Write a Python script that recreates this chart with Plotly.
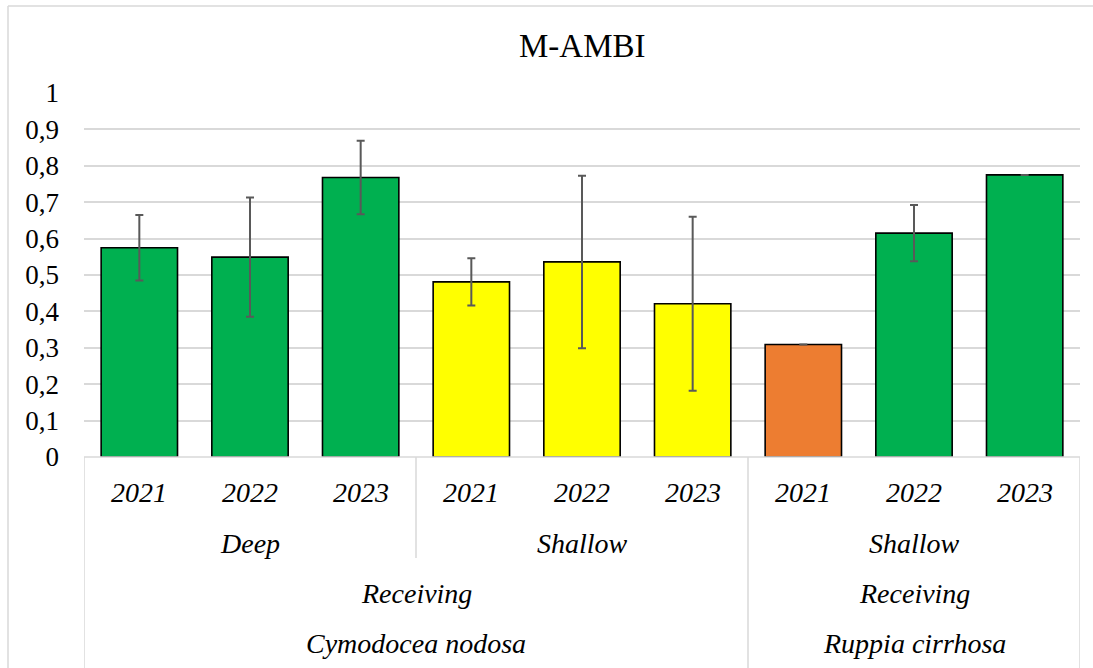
import plotly.graph_objects as go

# M-AMBI per site, depth and year
years = ["2021", "2022", "2023", "2021", "2022", "2023", "2021", "2022", "2023"]
depths = ["Deep", "Deep", "Deep", "Shallow", "Shallow", "Shallow", "Shallow", "Shallow", "Shallow"]
areas = ["Receiving"] * 9
species = ["Cymodocea nodosa"] * 6 + ["Ruppia cirrhosa"] * 3
mambi = [0.575, 0.549, 0.768, 0.481, 0.536, 0.421, 0.309, 0.615, 0.775]
mambi_sd = [0.090, 0.164, 0.101, 0.065, 0.237, 0.239, 0.0, 0.077, 0.0]
status = ["Good", "Good", "Good", "Moderate", "Moderate", "Moderate", "Poor", "Good", "Good"]
y_ticks = [0, 0.1, 0.2, 0.3, 0.4, 0.5, 0.6, 0.7, 0.8, 0.9, 1]
y_tick_text = ["0", "0,1", "0,2", "0,3", "0,4", "0,5", "0,6", "0,7", "0,8", "0,9", "1"]

status_colors = {"Good": "#00B050", "Moderate": "#FFFF00", "Poor": "#ED7D31"}

W, H = 1093, 668
L, R, T, B = 84, 13, 93, 211
plot_h = H - T - B
FONT = "'Times New Roman', 'Liberation Serif', Tinos, 'DejaVu Serif', serif"
GRID = "#D9D9D9"
n = len(mambi)
xs = list(range(n))


def py(pixel_y):
    """Pixel row (from top of page) to paper y."""
    return (H - B - pixel_y) / plot_h


fig = go.Figure()
fig.add_trace(go.Bar(
    x=xs,
    y=mambi,
    width=0.69,
    marker=dict(color=[status_colors[s] for s in status],
                line=dict(color="#000000", width=1.6)),
    error_y=dict(type="data", array=mambi_sd, visible=True,
                 color="#595959", thickness=2, width=4),
    showlegend=False,
    hoverinfo="y",
))


def runs(labels, keys=None):
    """Consecutive runs of equal labels -> (label, start, end)."""
    keys = keys or labels
    out = []
    start = 0
    for i in range(1, len(labels) + 1):
        if i == len(labels) or keys[i] != keys[start]:
            out.append((labels[start], start, i - 1))
            start = i
    return out


annotations = []
shapes = []

# category levels (top to bottom) with row centre pixel rows
levels = [
    (years, [f"{s}|{d}|{y}|{i}" for i, (s, d, y) in enumerate(zip(species, depths, years))], 492),
    (depths, [f"{s}|{d}" for s, d in zip(species, depths)], 543),
    (areas, [f"{s}|{a}" for s, a in zip(species, areas)], 593),
    (species, species, 643),
]
for labels, keys, row_y in levels:
    for text, a, b in runs(labels, keys):
        annotations.append(dict(
            x=(a + b) / 2, y=py(row_y), xref="x", yref="paper",
            text=f"<i>{text}</i>", showarrow=False,
            font=dict(family=FONT, size=28, color="#000000"),
            xanchor="center", yanchor="middle",
        ))

# category box: top line and dividers
shapes.append(dict(type="line", xref="x", yref="paper",
                   x0=-0.5, x1=n - 0.5, y0=0, y1=0,
                   line=dict(color=GRID, width=1.5)))
for x in (-0.5, n - 0.5):
    shapes.append(dict(type="line", xref="x", yref="paper",
                       x0=x, x1=x, y0=0, y1=py(H + 5),
                       line=dict(color=GRID, width=1.5)))
sp_runs = runs(species)
for _, a, b in sp_runs[:-1]:
    shapes.append(dict(type="line", xref="x", yref="paper",
                       x0=b + 0.5, x1=b + 0.5, y0=0, y1=py(H + 5),
                       line=dict(color=GRID, width=1.5)))
for _, a, b in runs(depths, [f"{s}|{d}" for s, d in zip(species, depths)]):
    if b + 1 < n and species[b] == species[b + 1]:
        shapes.append(dict(type="line", xref="x", yref="paper",
                           x0=b + 0.5, x1=b + 0.5, y0=0, y1=py(558),
                           line=dict(color=GRID, width=1.5)))

# outer chart border (top and left edges)
shapes.append(dict(type="line", xref="paper", yref="paper",
                   x0=(8 - L) / (W - L - R), x1=1.2, y0=py(6), y1=py(6),
                   line=dict(color=GRID, width=1.5)))
shapes.append(dict(type="line", xref="paper", yref="paper",
                   x0=(8 - L) / (W - L - R), x1=(8 - L) / (W - L - R),
                   y0=py(6), y1=py(H + 5),
                   line=dict(color=GRID, width=1.5)))

annotations.append(dict(
    x=0.5, y=py(46), xref="paper", yref="paper",
    text="M-AMBI", showarrow=False,
    font=dict(family=FONT, size=33, color="#000000"),
    xanchor="center", yanchor="middle",
))

fig.update_layout(
    width=W, height=H,
    margin=dict(l=L, r=R, t=T, b=B),
    paper_bgcolor="#FFFFFF",
    plot_bgcolor="#FFFFFF",
    separators=", ",
    xaxis=dict(range=[-0.5, n - 0.5], showticklabels=False, showgrid=False,
               zeroline=False, showline=False, ticks=""),
    yaxis=dict(range=[0, 1], tickvals=y_ticks, ticktext=y_tick_text,
               showgrid=True, gridcolor=GRID, gridwidth=1.5,
               zeroline=False, showline=False, ticks="",
               ticklabelstandoff=24,
               tickfont=dict(family=FONT, size=27, color="#000000")),
    annotations=annotations,
    shapes=shapes,
    bargap=0.31,
)

fig.write_html("out.html")
